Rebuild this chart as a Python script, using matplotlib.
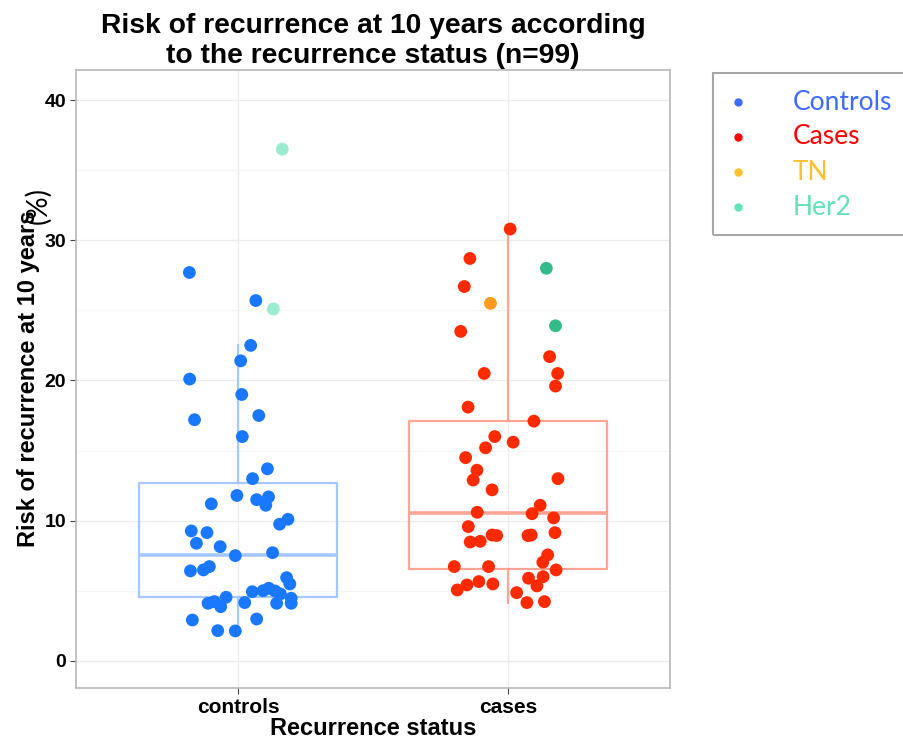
import numpy as np
import matplotlib.pyplot as plt
from matplotlib.patches import Rectangle
from matplotlib.lines import Line2D

# values (risk at 10 years, %) and their horizontal jitter
controls_risk = [36.5, 27.7, 25.7, 25.1, 22.5, 21.4, 20.1, 19.0, 17.5, 17.2, 16.0, 13.7,
                 13.0, 11.8, 11.5, 11.7, 11.1, 11.2, 10.1, 9.75, 9.27, 9.15, 8.39, 8.15,
                 7.51, 7.72, 6.73, 6.49, 6.42, 5.94, 5.49, 4.94, 5.01, 5.18, 4.99, 4.78,
                 4.54, 4.23, 4.11, 3.87, 4.16, 4.11, 4.47, 4.11, 2.92, 2.99, 2.16, 2.14]
controls_jit = [0.164, -0.180, 0.066, 0.131, 0.047, 0.010, -0.179, 0.014, 0.077, -0.161, 0.016, 0.109,
                0.054, -0.004, 0.069, 0.113, 0.103, -0.099, 0.185, 0.154, -0.173, -0.115, -0.154, -0.066,
                -0.010, 0.128, -0.106, -0.128, -0.176, 0.180, 0.192, 0.053, 0.093, 0.114, 0.137, 0.157,
                -0.044, -0.088, -0.111, -0.064, 0.025, 0.143, 0.197, 0.197, -0.169, 0.069, -0.075, -0.010]
controls_type = ['her2', '', '', 'her2'] + [''] * 44

cases_risk = [30.8, 28.7, 28.0, 26.7, 25.5, 23.9, 23.5, 21.7, 20.5, 20.5, 19.6, 18.1,
              17.1, 16.0, 15.6, 15.2, 14.5, 13.6, 12.9, 13.0, 12.2, 11.1, 10.6, 10.5,
              10.2, 9.58, 9.15, 8.94, 8.98, 8.98, 8.94, 8.48, 8.53, 7.56, 7.04, 6.73,
              6.73, 6.49, 5.9, 6.01, 5.35, 5.66, 5.49, 5.42, 5.06, 4.87, 4.16, 4.23]
cases_jit = [0.008, -0.141, 0.142, -0.162, -0.065, 0.176, -0.175, 0.154, -0.088, 0.184, 0.176, -0.148,
             0.096, -0.049, 0.019, -0.083, -0.157, -0.115, -0.129, 0.185, -0.059, 0.119, -0.114, 0.089,
             0.169, -0.147, 0.174, -0.042, -0.059, 0.086, 0.074, -0.140, -0.103, 0.147, 0.129, -0.199,
             -0.072, 0.178, 0.076, 0.130, 0.107, -0.108, -0.056, -0.152, -0.188, 0.032, 0.070, 0.135]
cases_type = ['', '', 'her2', '', 'tn', 'her2'] + [''] * 42

# box statistics as drawn
box_labels = ['controls', 'cases']
box_q1 = [4.56, 6.56]
box_med = [7.53, 10.55]
box_q3 = [12.7, 17.08]
box_lo = [2.14, 4.16]
box_hi = [22.5, 30.7]

legend_labels = ['Controls', 'Cases', 'TN', 'Her2']
legend_colors = ['#3d6bff', '#ff0000', '#ffc12b', '#62e2b6']

plt.rcParams['font.family'] = 'Liberation Sans'

fig = plt.figure(figsize=(9.04, 7.41), dpi=100)
ax = fig.add_axes([76 / 904, 53 / 741, 594 / 904, 618 / 741])

box_colors = ['#a6c8ff', '#ffa595']
stats = []
for i in range(2):
    stats.append(dict(med=box_med[i], q1=box_q1[i], q3=box_q3[i],
                      whislo=box_lo[i], whishi=box_hi[i], fliers=[]))
for i in range(2):
    ax.bxp([stats[i]], positions=[i + 1], widths=0.73, showcaps=False,
           boxprops=dict(color=box_colors[i], linewidth=1.6),
           whiskerprops=dict(color=box_colors[i], linewidth=1.6),
           medianprops=dict(color=box_colors[i], linewidth=2.6),
           zorder=2)

point_cols = {'controls': {'': '#1a78ff', 'her2': '#9aebcf'},
              'cases': {'': '#ff2a00', 'her2': '#33bb8a', 'tn': '#ff9a1a'}}

x_c = 1 + np.array(controls_jit)
ax.scatter(x_c, controls_risk, s=85, linewidths=0,
           c=[point_cols['controls'][t] for t in controls_type], zorder=3)
x_k = 2 + np.array(cases_jit)
ax.scatter(x_k, cases_risk, s=85, linewidths=0,
           c=[point_cols['cases'][t] for t in cases_type], zorder=3)

ax.set_xlim(0.4, 2.6)
ax.set_ylim(-1.93, 42.14)
ax.set_xticks([1, 2])
ax.set_xticklabels(box_labels, fontsize=15, fontweight='bold')
ax.set_yticks([0, 10, 20, 30, 40])
ax.set_yticks([5, 15, 25, 35], minor=True)
ax.tick_params(axis='y', which='major', labelsize=14, length=4, color='#444444', pad=3)
ax.tick_params(axis='x', which='major', length=4, color='#444444', pad=3)
ax.tick_params(axis='y', which='minor', length=0)
for lab in ax.get_yticklabels():
    lab.set_fontweight('bold')
ax.grid(True, which='major', color='#ebebeb', linewidth=1.0, zorder=0)
ax.grid(True, which='minor', axis='y', color='#f5f5f5', linewidth=0.8, zorder=0)
ax.set_axisbelow(True)
for sp in ax.spines.values():
    sp.set_color('#b8b8b8')
    sp.set_linewidth(1.2)

ax.set_xlabel('Recurrence status', fontsize=17, fontweight='bold', labelpad=0)
ax.set_ylabel('Risk of recurrence at 10 years', fontsize=17, fontweight='bold', labelpad=3)
ax.set_title('Risk of recurrence at 10 years according\nto the recurrence status (n=99)',
             fontsize=20.3, fontweight='bold', linespacing=1.2, pad=5)
fig.text(38 / 904, 1 - 206 / 741, '(%)', rotation=90, fontsize=20,
         family='Lato', ha='center', va='center')

# pasted legend box on the right
fig.patches.append(Rectangle((713 / 904, 1 - 235 / 741), 200 / 904, 162 / 741,
                             transform=fig.transFigure, fill=False,
                             edgecolor='#a6a6a6', linewidth=1.5, clip_on=False))
for i, (lab, col) in enumerate(zip(legend_labels, legend_colors)):
    yy = 1 - (102 + 35 * i) / 741
    fig.add_artist(Line2D([738 / 904], [yy], marker='o', markersize=5, color=col,
                          linestyle='none', transform=fig.transFigure))
    fig.text(793 / 904, yy, lab, color=col, fontsize=19, family='Lato',
             ha='left', va='center')

fig.savefig('out.png', dpi=100)
